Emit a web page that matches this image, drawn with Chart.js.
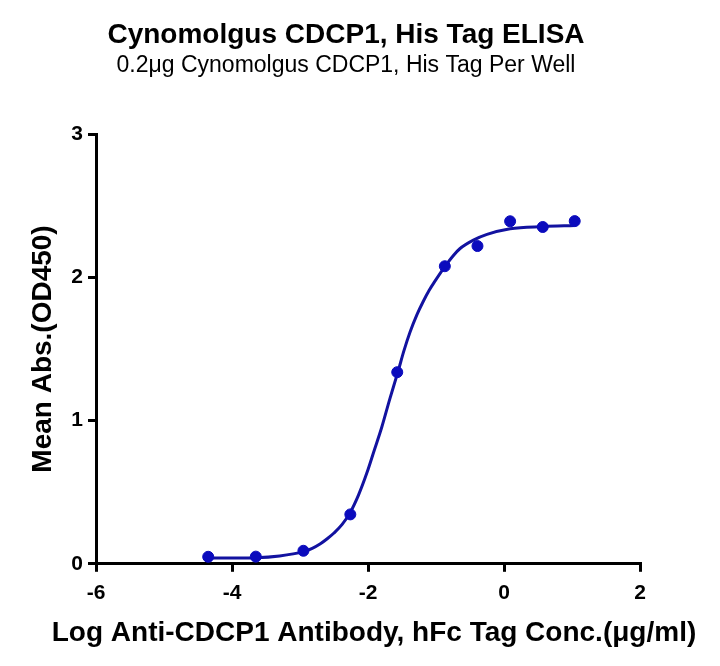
<!DOCTYPE html>
<html>
<head>
<meta charset="utf-8">
<script src="https://cdn.jsdelivr.net/npm/chart.js@4/dist/chart.umd.min.js"></script>
<style>
    html, body { margin: 0; padding: 0; background: #fff; }
    #wrap { width: 720px; height: 666px; }
</style>
</head>
<body>
<div id="wrap"><canvas id="elisaChart"></canvas></div>
<script>
// measured points (log conc, OD450)
const logConc = [-4.35, -3.65, -2.95, -2.26, -1.57, -0.87, -0.39, 0.09, 0.57, 1.04];
const meanAbs = [0.049, 0.050, 0.091, 0.345, 1.338, 2.078, 2.219, 2.392, 2.352, 2.393];

// fitted curve
const curveX = [-4.35, -3.65, -3.30, -2.95, -2.82, -2.70, -2.60, -2.50, -2.38, -2.26, -2.14, -2.02, -1.91, -1.80, -1.68, -1.56, -1.47, -1.38, -1.28, -1.19, -1.10, -1.02, -0.87, -0.75, -0.65, -0.45, -0.25, 0.09, 0.57, 1.04];
const curveY = [0.040, 0.043, 0.055, 0.085, 0.108, 0.140, 0.175, 0.215, 0.275, 0.360, 0.480, 0.630, 0.790, 0.950, 1.150, 1.340, 1.490, 1.620, 1.740, 1.830, 1.910, 1.970, 2.075, 2.150, 2.200, 2.260, 2.300, 2.340, 2.355, 2.362];

const xTicks = [-6, -4, -2, 0, 2];
const yTicks = [0, 1, 2, 3];

const FONT = "'Liberation Sans', Arial, sans-serif";
const BLUE_LINE = "#1212a0";
const BLUE_DOT = "#0b0bbd";
const X_TITLE = "Log Anti-CDCP1 Antibody, hFc Tag Conc.(μg/ml)";

const toXY = (xs, ys) => xs.map((x, i) => ({ x, y: ys[i] }));

// the built-in axis title squeezes long text to the plot width, so draw it here
const xTitlePlugin = {
    id: "xTitle",
    afterDraw(chart) {
        const { ctx, chartArea } = chart;
        ctx.save();
        ctx.font = `bold 28px ${FONT}`;
        ctx.fillStyle = "#000";
        ctx.textAlign = "center";
        ctx.textBaseline = "middle";
        ctx.fillText(X_TITLE, (chartArea.left + chartArea.right) / 2 + 6, chartArea.bottom + 69);
        ctx.restore();
    }
};

new Chart(document.getElementById("elisaChart").getContext("2d"), {
    type: "scatter",
    data: {
        datasets: [
            {
                label: "Mean Abs.",
                data: toXY(logConc, meanAbs),
                order: 0,
                backgroundColor: BLUE_DOT,
                borderColor: BLUE_DOT,
                pointRadius: 5.5,
                pointHoverRadius: 5.5,
                showLine: false
            },
            {
                label: "Fit",
                data: toXY(curveX, curveY),
                order: 1,
                showLine: true,
                borderColor: BLUE_LINE,
                borderWidth: 3,
                pointRadius: 0,
                cubicInterpolationMode: "monotone",
                fill: false
            }
        ]
    },
    options: {
        responsive: true,
        maintainAspectRatio: false,
        animation: false,
        layout: { padding: { left: 52, right: 80, top: 0, bottom: 51 } },
        plugins: {
            legend: { display: false },
            tooltip: { enabled: false },
            title: {
                display: true,
                text: "Cynomolgus CDCP1, His Tag ELISA",
                color: "#000",
                font: { family: FONT, size: 28, weight: "bold" },
                padding: { top: 18, bottom: 0 }
            },
            subtitle: {
                display: true,
                text: "0.2μg Cynomolgus CDCP1, His Tag Per Well",
                color: "#000",
                font: { family: FONT, size: 23 },
                padding: { top: 0, bottom: 55 }
            }
        },
        scales: {
            x: {
                type: "linear",
                min: xTicks[0],
                max: xTicks[xTicks.length - 1],
                afterBuildTicks: (axis) => { axis.ticks = xTicks.map((v) => ({ value: v })); },
                border: { display: true, color: "#000", width: 3 },
                grid: { drawOnChartArea: false, drawTicks: true, tickLength: 8, color: "#000", lineWidth: 3 },
                ticks: { color: "#000", padding: 9, font: { family: FONT, size: 21, weight: "bold" } },
                title: { display: false }
            },
            y: {
                min: yTicks[0],
                max: yTicks[yTicks.length - 1],
                afterBuildTicks: (axis) => { axis.ticks = yTicks.map((v) => ({ value: v })); },
                border: { display: true, color: "#000", width: 3 },
                grid: { drawOnChartArea: false, drawTicks: true, tickLength: 8, color: "#000", lineWidth: 3 },
                ticks: { color: "#000", padding: 5, font: { family: FONT, size: 21, weight: "bold" } },
                title: {
                    display: true,
                    text: "Mean Abs.(OD450)",
                    color: "#000",
                    font: { family: FONT, size: 28, weight: "bold" },
                    // pulled left past the scale box so the page title can stay centred
                    padding: { top: -26, bottom: 0 }
                },
                afterFit: (axis) => { axis.width = 44; }
            }
        }
    },
    plugins: [xTitlePlugin]
});
</script>
</body>
</html>
